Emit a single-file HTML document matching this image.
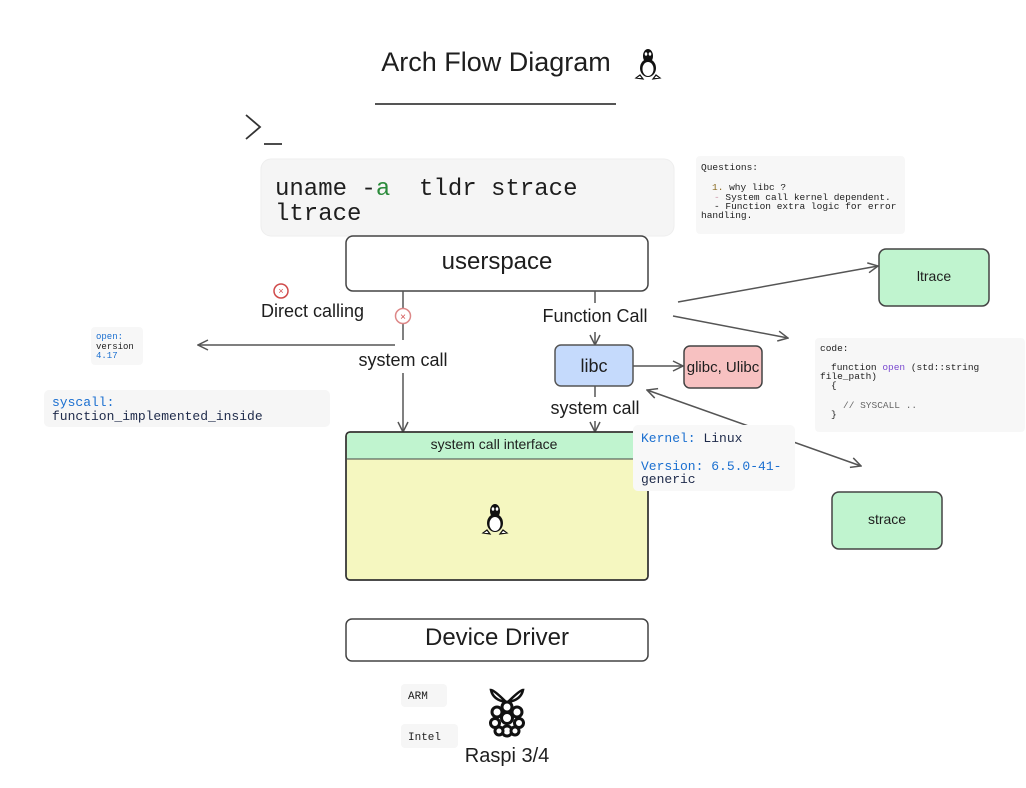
<!DOCTYPE html>
<html><head><meta charset="utf-8"><style>
html,body{margin:0;padding:0;background:#fff;width:1026px;height:788px;overflow:hidden}
svg{display:block}
.s{font-family:"Liberation Sans",sans-serif;fill:#1e1e1e}
.m{font-family:"Liberation Mono",monospace;fill:#1e1e1e}
</style></head><body>
<svg width="1026" height="788" viewBox="0 0 1026 788" xmlns="http://www.w3.org/2000/svg">
<defs>
<marker id="a" viewBox="0 0 12 12" refX="11" refY="6" markerWidth="12" markerHeight="12" markerUnits="userSpaceOnUse" orient="auto-start-reverse">
<path d="M1,1 L11,6 L1,11" fill="none" stroke="#555" stroke-width="1.5"/></marker>
<g id="tux">
<ellipse cx="0" cy="-6" rx="5" ry="7" fill="#111"/>
<ellipse cx="0" cy="6" rx="8" ry="9" fill="#111"/>
<ellipse cx="0" cy="7" rx="5.5" ry="7" fill="#fff"/>
<ellipse cx="-2" cy="-8" rx="1.3" ry="1.8" fill="#fff"/>
<ellipse cx="2" cy="-8" rx="1.3" ry="1.8" fill="#fff"/>
<path d="M-8,13 l-4,3 l7,1 z M8,13 l4,3 l-7,1 z" fill="#fff" stroke="#111" stroke-width="1.2"/>
</g>
</defs>

<text x="496" y="71" class="s" font-size="27" text-anchor="middle">Arch Flow Diagram</text>
<use href="#tux" x="648" y="62"/>
<line x1="375" y1="104" x2="616" y2="104" stroke="#555" stroke-width="2"/>
<path d="M246,115 L260,127 L246,139 M264,144 L282,144" fill="none" stroke="#333" stroke-width="1.8"/>

<rect x="261" y="159" width="413" height="77" rx="10" fill="#f5f5f5" stroke="#eee"/>
<text x="275" y="195" class="m" font-size="24">uname -<tspan fill="#2a8a3a">a</tspan>&#160; tldr strace</text>
<text x="275" y="220" class="m" font-size="24">ltrace</text>

<rect x="696" y="156" width="209" height="78" rx="4" fill="#f7f7f7"/>
<text class="m" font-size="9.5"><tspan x="701" y="170">Questions:</tspan><tspan x="712" y="190"><tspan fill="#8a6a20">1.</tspan> why libc ?</tspan><tspan x="714" y="200"><tspan fill="#c9a">-</tspan> System call kernel dependent.</tspan><tspan x="714" y="209">- Function extra logic for error</tspan><tspan x="701" y="218">handling.</tspan></text>

<rect x="346" y="236" width="302" height="55" rx="7" fill="#fff" stroke="#444" stroke-width="1.5"/>
<text x="497" y="269" class="s" font-size="24" text-anchor="middle">userspace</text>

<circle cx="281" cy="291" r="7" fill="none" stroke="#d04a4a" stroke-width="1.5"/>
<text x="281" y="294" font-size="9" fill="#d04a4a" text-anchor="middle" font-family="Liberation Sans">×</text>
<text x="261" y="317" class="s" font-size="18">Direct calling</text>

<line x1="403" y1="291" x2="403" y2="340" stroke="#555" stroke-width="1.5"/>
<line x1="403" y1="373" x2="403" y2="432" stroke="#555" stroke-width="1.5" marker-end="url(#a)"/>
<circle cx="403" cy="316" r="7.5" fill="#fff" stroke="#d88" stroke-width="1.5"/>
<text x="403" y="320" font-size="10" fill="#d04a4a" text-anchor="middle" font-family="Liberation Sans">×</text>
<line x1="395" y1="345" x2="198" y2="345" stroke="#555" stroke-width="1.5" marker-end="url(#a)"/>
<text x="403" y="366" class="s" font-size="18" text-anchor="middle">system call</text>

<rect x="91" y="327" width="52" height="38" rx="4" fill="#f7f7f7"/>
<text class="m" font-size="9"><tspan x="96" y="339" fill="#1a6fd0">open:</tspan><tspan x="96" y="349">version</tspan><tspan x="96" y="358" fill="#1a6fd0">4.17</tspan></text>

<rect x="44" y="390" width="286" height="37" rx="5" fill="#f6f6f6"/>
<text class="m" font-size="13"><tspan x="52" y="406" fill="#1a6fd0">syscall:</tspan><tspan x="52" y="420" fill="#1e2a4a">function_implemented_inside</tspan></text>

<line x1="595" y1="291" x2="595" y2="303" stroke="#555" stroke-width="1.5"/>
<text x="595" y="322" class="s" font-size="18" text-anchor="middle">Function Call</text>
<line x1="595" y1="332" x2="595" y2="345" stroke="#555" stroke-width="1.5" marker-end="url(#a)"/>
<rect x="555" y="345" width="78" height="41" rx="6" fill="#c5dafc" stroke="#555" stroke-width="1.5"/>
<text x="594" y="372" class="s" font-size="18" text-anchor="middle">libc</text>
<line x1="633" y1="366" x2="683" y2="366" stroke="#555" stroke-width="1.5" marker-end="url(#a)"/>
<rect x="684" y="346" width="78" height="42" rx="6" fill="#f7c1c1" stroke="#444" stroke-width="1.5"/>
<text x="723" y="372" class="s" font-size="15" text-anchor="middle">glibc, Ulibc</text>
<line x1="595" y1="386" x2="595" y2="397" stroke="#555" stroke-width="1.5"/>
<text x="595" y="414" class="s" font-size="18" text-anchor="middle">system call</text>
<line x1="595" y1="421" x2="595" y2="432" stroke="#555" stroke-width="1.5" marker-end="url(#a)"/>

<rect x="346" y="432" width="302" height="148" rx="4" fill="#f5f7c0" stroke="#333" stroke-width="1.5"/>
<path d="M350,433 H644 a3,3 0 0 1 3,3 V459 H347 V436 a3,3 0 0 1 3,-3z" fill="#c0f4cf"/>
<line x1="347" y1="459" x2="647" y2="459" stroke="#444" stroke-width="1"/>
<rect x="346" y="432" width="302" height="148" rx="4" fill="none" stroke="#333" stroke-width="1.5"/>
<text x="494" y="449" class="s" font-size="14" text-anchor="middle">system call interface</text>
<use href="#tux" x="495" y="517"/>

<line x1="678" y1="302" x2="878" y2="266" stroke="#555" stroke-width="1.5" marker-end="url(#a)"/>
<line x1="673" y1="316" x2="788" y2="338" stroke="#555" stroke-width="1.5" marker-end="url(#a)"/>
<line x1="647" y1="390" x2="861" y2="466" stroke="#555" stroke-width="1.5" marker-start="url(#a)" marker-end="url(#a)"/>

<rect x="633" y="425" width="162" height="66" rx="5" fill="#f8f8f8"/>
<text class="m" font-size="13"><tspan x="641" y="442" fill="#1a6fd0">Kernel: <tspan fill="#1e2a4a">Linux</tspan></tspan><tspan x="641" y="470" fill="#1a6fd0">Version: 6.5.0-41-</tspan><tspan x="641" y="483" fill="#1e2a4a">generic</tspan></text>

<rect x="879" y="249" width="110" height="57" rx="7" fill="#c0f4cf" stroke="#444" stroke-width="1.5"/>
<text x="934" y="281" class="s" font-size="14" text-anchor="middle">ltrace</text>
<rect x="832" y="492" width="110" height="57" rx="7" fill="#c0f4cf" stroke="#444" stroke-width="1.5"/>
<text x="887" y="524" class="s" font-size="14" text-anchor="middle">strace</text>

<rect x="815" y="338" width="210" height="94" rx="4" fill="#f7f7f7"/>
<text class="m" font-size="9.5"><tspan x="820" y="351">code:</tspan><tspan x="831" y="370">function <tspan fill="#7a4ad0">open</tspan> (std::string</tspan><tspan x="820" y="379">file_path)</tspan><tspan x="831" y="388">{</tspan><tspan x="843" y="408" fill="#666">// SYSCALL ..</tspan><tspan x="831" y="417">}</tspan></text>

<rect x="346" y="619" width="302" height="42" rx="6" fill="#fff" stroke="#444" stroke-width="1.5"/>
<text x="497" y="645" class="s" font-size="24" text-anchor="middle">Device Driver</text>

<rect x="401" y="684" width="46" height="23" rx="4" fill="#f6f6f6"/>
<text x="408" y="699" class="m" font-size="11">ARM</text>
<rect x="401" y="724" width="57" height="24" rx="4" fill="#f6f6f6"/>
<text x="408" y="740" class="m" font-size="11">Intel</text>

<g>
<path d="M506,702 q-12,-12 -15,-12 q2,10 15,12z M508,702 q12,-12 15,-12 q-2,10 -15,12z" fill="none" stroke="#111" stroke-width="2.5"/>
<g fill="#fff" stroke="#111" stroke-width="3">
<circle cx="507" cy="707" r="5"/><circle cx="497" cy="712" r="5"/><circle cx="517" cy="712" r="5"/>
<circle cx="507" cy="718" r="5.5"/><circle cx="495" cy="723" r="4.5"/><circle cx="519" cy="723" r="4.5"/>
<circle cx="507" cy="731" r="5"/><circle cx="499" cy="731" r="4"/><circle cx="515" cy="731" r="4"/>
</g>
</g>
<text x="507" y="762" class="s" font-size="20" text-anchor="middle">Raspi 3/4</text>
</svg>
</body></html>
